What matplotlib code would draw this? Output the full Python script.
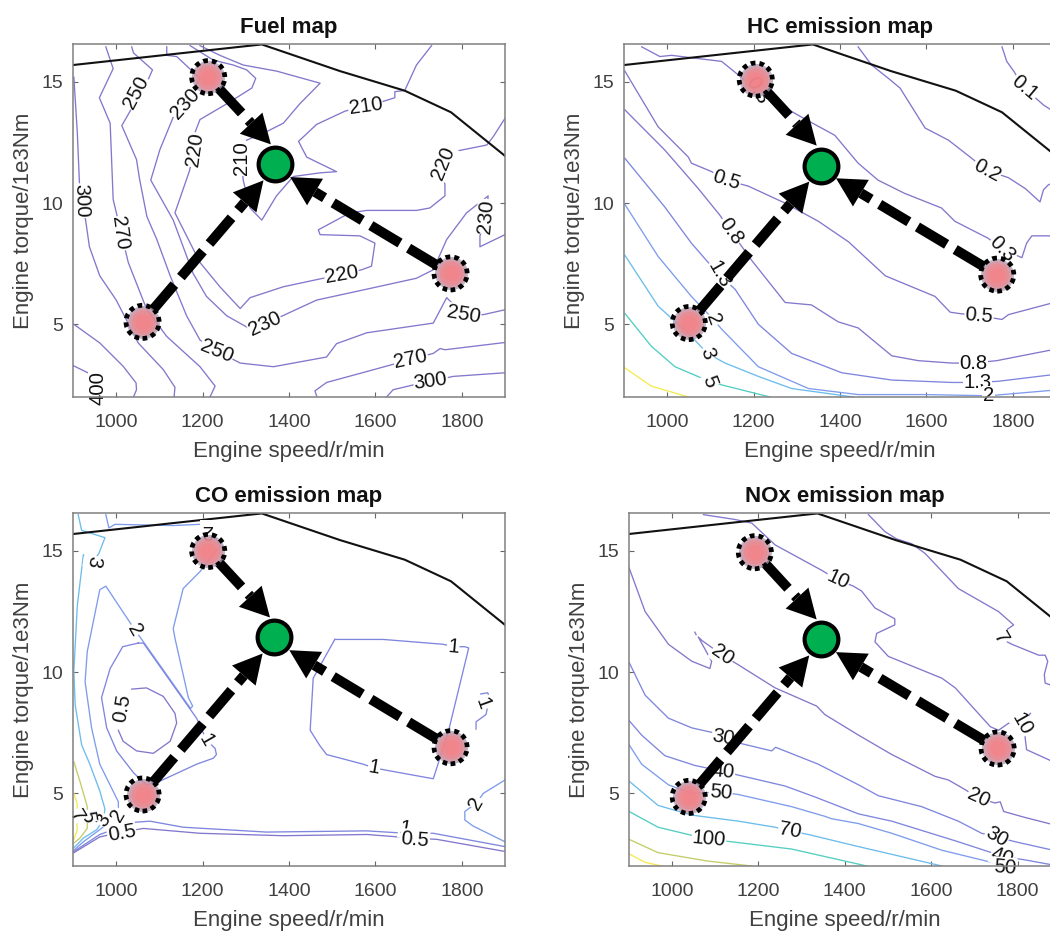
import matplotlib
matplotlib.use("Agg")
import matplotlib.pyplot as plt
import numpy as np
from matplotlib.patches import Polygon

plt.rcParams['font.family'] = ['Liberation Sans', 'DejaVu Sans']

W, H = 1050, 931
PURPLE = '#8278cc'
INDIGO = '#7f86de'
BLUE = '#7f9cec'
SKY = '#6cbcec'
TEAL = '#52cec2'
OLIVE = '#c4cc68'
YELLOW = '#f6ea50'

x_ticks = [1000, 1200, 1400, 1600, 1800]
y_ticks = [5, 10, 15]
limit_curve = [(900, 15.7), (1337, 16.55), (1518, 15.45), (1668, 14.64), (1775, 13.75), (1900, 11.95)]
# where the three arrow tips touch the ring of the optimum marker, in pixels (right, down)
tip_offsets = [(-4.3, -20), (-11.7, 16), (15, 12.7)]

# ---------- Fuel map ----------
fuel_contours = [
    (PURPLE, [(900, 3.3), (940, 2.95), (965, 2.4), (968, 2.0)]),
    (PURPLE, [(902, 5), (962, 4.23), (1016, 3.27), (1046, 2.58), (1047, 2.3), (1040, 2.0)]),
    (PURPLE, [(902, 15.2), (910, 12.9), (915, 10.8), (930, 9.2), (938, 8.2), (962, 7.0), (1000, 6.0), (1051, 4.23), (1109, 3.13), (1136, 2.4), (1134, 2.0)]),
    (PURPLE, [(976, 16.45), (993, 15.55), (961, 14.35), (986, 13.3), (993, 10.15), (1028, 7.55), (1071, 5.6), (1117, 4.5), (1194, 3.25), (1229, 2.45), (1217, 2.0)]),
    (PURPLE, [(1036, 16.45), (1040, 16.2), (1084, 15.5), (1074, 15.1), (1013, 13.2), (1047, 11.8), (1054, 11.0), (1071, 9.45), (1094, 8.5), (1125, 7.0), (1163, 5.35), (1194, 4.35), (1233, 3.9), (1287, 3.4), (1364, 3.25), (1487, 3.65), (1510, 4.2), (1580, 4.65), (1734, 5.05), (1765, 6.1), (1804, 5.4), (1850, 5.4), (1900, 5.6)]),
    (PURPLE, [(1464, 2.05), (1460, 2.25), (1487, 2.6), (1580, 3.05), (1682, 3.55), (1734, 3.8), (1750, 4.0), (1761, 3.95), (1900, 4.25)]),
    (PURPLE, [(1626, 2.0), (1641, 2.3), (1688, 2.5), (1728, 2.65), (1780, 2.85), (1900, 3.0)]),
    (PURPLE, [(1117, 16.45), (1117, 16.1), (1140, 16.05), (1194, 15.15), (1159, 14.1), (1132, 13.55), (1101, 12.2), (1080, 10.95), (1132, 9.3), (1178, 7.1), (1209, 6.15), (1256, 5.35), (1306, 4.85), (1344, 5.0), (1391, 5.4), (1464, 6.0), (1580, 6.45), (1695, 6.9), (1734, 7.25), (1765, 8.5), (1811, 9.6), (1861, 10.3), (1857, 9.45), (1842, 8.65), (1842, 8.2), (1900, 8.7)]),
    (PURPLE, [(1171, 16.5), (1225, 15.9), (1271, 15.7), (1302, 15.5), (1323, 15.15), (1314, 14.75), (1256, 14.1), (1194, 13.45), (1182, 12.9), (1182, 12.2), (1169, 11.3), (1136, 9.6), (1194, 7.55), (1240, 6.55), (1287, 5.65), (1310, 6.1), (1387, 6.55), (1479, 6.9), (1522, 7.05), (1568, 7.25), (1591, 7.4), (1599, 8.35), (1564, 8.65), (1472, 8.7), (1468, 8.9), (1541, 9.6), (1580, 9.7), (1695, 9.7), (1726, 9.8), (1761, 10.3), (1761, 10.7), (1757, 11.65), (1788, 12.15), (1858, 12.4), (1873, 12.75), (1900, 13.5)]),
    (PURPLE, [(1194, 16.5), (1240, 16.1), (1294, 15.7), (1371, 15.45), (1472, 14.95), (1425, 14.1), (1387, 13.3), (1348, 12.95), (1302, 12.6), (1290, 11.85), (1294, 10.95), (1310, 9.8), (1337, 9.3), (1371, 10.3), (1410, 11.1), (1472, 11.25), (1510, 11.3), (1441, 11.9), (1422, 12.55), (1464, 13.25), (1530, 13.8), (1577, 14.0), (1618, 14.2), (1645, 14.35), (1645, 14.6), (1668, 14.65), (1695, 15.7), (1730, 16.5)]),
]
fuel_labels = [
    ('400', 958, 2.35, 90), ('300', 920, 10.1, -88), ('270', 1009, 8.75, -82), ('250', 1047, 14.55, 62),
    ('230', 1159, 14.1, 48), ('220', 1182, 12.2, 82), ('210', 1290, 11.85, 90), ('210', 1577, 14.0, 8),
    ('220', 1757, 11.65, 68), ('230', 1857, 9.45, 85), ('220', 1522, 7.05, 10), ('230', 1344, 5.0, 25),
    ('250', 1233, 3.9, -22), ('250', 1804, 5.4, -10), ('270', 1682, 3.55, 12), ('300', 1728, 2.65, 8),
]
fuel_points = [(1213, 15.2), (1061, 5.1), (1774, 7.1)]
fuel_optimum = (1368, 11.6)

# ---------- HC map ----------
hc_contours = [
    (PURPLE, [(1775, 16.45), (1786, 15.85), (1802, 15.45), (1827, 14.75), (1871, 14.05), (1906, 13.65)]),
    (PURPLE, [(1442, 16.45), (1473, 15.7), (1512, 15.15), (1539, 14.75), (1597, 13.1), (1651, 12.6), (1705, 11.85), (1740, 11.35), (1790, 11.05), (1829, 10.6), (1863, 10.05), (1871, 10.55), (1882, 10.75), (1906, 10.95)]),
    (PURPLE, [(941, 16.45), (983, 16.05), (1010, 16.1), (1056, 16.0), (1126, 15.85), (1164, 15.3), (1207, 14.65), (1242, 14.25), (1311, 13.55), (1388, 12.8), (1442, 11.65), (1488, 10.95), (1550, 10.4), (1635, 9.8), (1666, 9.25), (1743, 8.55), (1776, 8.1), (1821, 7.75), (1832, 8.35), (1844, 8.65), (1906, 8.65)]),
    (PURPLE, [(902, 15.45), (979, 13.15), (1049, 11.9), (1056, 11.65), (1103, 11.3), (1137, 10.95), (1188, 10.7), (1273, 10.0), (1350, 9.25), (1420, 8.4), (1505, 7.0), (1620, 6.15), (1655, 5.5), (1674, 5.45), (1722, 5.35), (1775, 5.2), (1790, 5.4), (1906, 5.95)]),
    (PURPLE, [(902, 13.85), (994, 12.2), (1072, 10.6), (1122, 9.5), (1147, 8.85), (1195, 7.65), (1273, 5.9), (1334, 5.8), (1396, 5.1), (1442, 4.85), (1520, 3.7), (1581, 3.5), (1659, 3.4), (1709, 3.4), (1763, 3.5), (1906, 4.0)]),
    (INDIGO, [(902, 11.85), (994, 9.85), (1056, 8.35), (1095, 7.55), (1120, 7.05), (1157, 6.45), (1211, 5.0), (1288, 3.8), (1404, 3.0), (1520, 2.7), (1659, 2.6), (1718, 2.6), (1767, 2.65), (1906, 2.95)]),
    (BLUE, [(902, 9.95), (979, 7.8), (1056, 6.15), (1107, 5.2), (1126, 4.8), (1211, 3.25), (1327, 2.35), (1442, 2.1), (1597, 2.1), (1744, 2.05), (1906, 2.3)]),
    (SKY, [(902, 7.85), (979, 5.75), (1056, 4.5), (1093, 3.8), (1134, 3.4), (1211, 2.85), (1288, 2.35), (1431, 2.0)]),
    (TEAL, [(902, 5.45), (963, 4.1), (1018, 3.25), (1097, 2.65), (1126, 2.5), (1238, 2.0)]),
    (YELLOW, [(902, 3.2), (963, 2.45), (1049, 2.0)]),
]
hc_labels = [
    ('0.1', 1827, 14.75, -40), ('0.2', 1740, 11.35, -28), ('0.3', 1207, 14.65, -60), ('0.3', 1776, 8.1, -45),
    ('0.5', 1137, 10.95, -18), ('0.5', 1722, 5.35, -5), ('0.8', 1147, 8.85, -55), ('0.8', 1709, 3.4, 0),
    ('1.3', 1120, 7.05, -60), ('1.3', 1718, 2.6, 0), ('2', 1107, 5.2, -70), ('2', 1744, 2.05, 0),
    ('3', 1093, 3.8, -70), ('5', 1097, 2.65, -70),
]
hc_points = [(1205, 15.1), (1050, 5.05), (1764, 7.05)]
hc_optimum = (1356, 11.55)

# ---------- CO map ----------
co_contours = [
    (OLIVE, [(902, 6.3), (916, 5.5), (933, 4.45), (933, 3.55), (916, 3.15), (902, 2.95)]),
    (YELLOW, [(902, 5.0), (910, 4.55), (908, 4.05), (910, 3.5), (902, 3.1)]),
    (SKY, [(912, 16.5), (920, 15.85), (974, 15.55), (960, 14.9), (947, 14.55), (924, 14.85), (910, 12.75), (902, 10.05), (905, 8.65), (920, 7.0), (939, 6.2), (962, 5.1), (974, 4.35), (970, 3.9), (955, 3.5), (924, 3.15), (902, 2.75)]),
    (BLUE, [(976, 16.5), (983, 15.95), (997, 16.1), (1132, 16.05), (1194, 16.1), (1225, 15.7), (1240, 15.2), (1194, 14.15), (1155, 13.45), (1132, 11.8), (1136, 11.4), (1167, 8.95), (1177, 8.6), (1172, 8.5), (1063, 11.25), (1043, 11.75), (976, 13.55), (962, 13.4), (933, 10.85), (928, 9.6), (943, 7.7), (962, 6.2), (1005, 4.65), (1005, 4.1), (962, 3.5), (924, 3.0), (902, 2.65)]),
    (BLUE, [(1900, 5.55), (1850, 5.0), (1834, 4.6), (1807, 4.25), (1807, 3.9), (1826, 3.65), (1900, 3.0)]),
    (INDIGO, [(1051, 11.2), (1015, 11.05), (986, 10.15), (966, 8.95), (978, 7.7), (1001, 6.75), (1040, 5.85), (1070, 5.35), (1101, 5.5), (1186, 6.2), (1225, 6.45), (1232, 6.6), (1229, 6.85), (1209, 7.2), (1186, 8.1), (1063, 11.2), (1051, 11.2)]),
    (INDIGO, [(1506, 11.35), (1618, 11.35), (1757, 11.15), (1780, 11.05), (1807, 11.05), (1816, 11.0), (1769, 7.55), (1734, 5.6), (1626, 5.95), (1597, 6.05), (1572, 6.2), (1487, 6.6), (1472, 6.95), (1449, 7.6), (1456, 9.75), (1506, 11.35)]),
    (INDIGO, [(1833, 7.65), (1833, 7.95), (1856, 8.25), (1864, 8.95), (1860, 9.15), (1844, 9.1)]),
    (INDIGO, [(902, 2.6), (962, 3.3), (1040, 3.8), (1078, 3.85), (1155, 3.6), (1348, 3.4), (1580, 3.45), (1671, 3.35), (1734, 3.35), (1900, 2.8)]),
    (PURPLE, [(1005, 7.6), (1016, 7.15), (1047, 6.75), (1086, 6.65), (1125, 7.15), (1140, 7.9), (1136, 8.3), (1109, 9.0), (1070, 9.35), (1036, 9.3)]),
    (PURPLE, [(902, 2.55), (962, 3.2), (1013, 3.4), (1063, 3.55), (1194, 3.35), (1387, 3.25), (1580, 3.3), (1689, 3.15), (1742, 3.1), (1900, 2.6)]),
]
co_labels = [
    ('3', 947, 14.55, -100), ('2', 1209, 15.85, 180), ('2', 1043, 11.75, -60), ('0.5', 1015, 8.5, 80),
    ('1', 1209, 7.2, -60), ('1', 1780, 11.05, -5), ('1', 1597, 6.05, -10), ('1', 1848, 8.7, -70),
    ('2', 1834, 4.6, 60), ('2', 1005, 4.1, 60), ('3', 970, 3.9, 60), ('5', 933, 4.05, -80), ('7', 908, 4.05, -60),
    ('0.5', 1013, 3.35, 10), ('1', 1668, 3.55, -10), ('0.5', 1692, 3.1, -5),
]
co_points = [(1213, 15.0), (1061, 4.95), (1774, 6.9)]
co_optimum = (1366, 11.43)

# ---------- NOx map ----------
nox_contours = [
    (PURPLE, [(1455, 16.5), (1493, 15.8), (1520, 15.5), (1555, 15.3), (1586, 14.9), (1663, 13.45), (1756, 12.5), (1791, 11.95), (1771, 11.7), (1760, 11.4), (1787, 11.15), (1849, 10.7), (1864, 10.7), (1870, 10.45), (1862, 9.9), (1864, 9.55), (1895, 9.35)]),
    (PURPLE, [(1073, 16.5), (1146, 16.3), (1185, 16.15), (1239, 15.25), (1347, 14.2), (1384, 13.8), (1420, 13.55), (1439, 13.35), (1470, 12.65), (1516, 12.2), (1516, 11.95), (1474, 11.6), (1470, 11.25), (1501, 10.65), (1625, 9.75), (1656, 9.35), (1737, 7.75), (1756, 7.6), (1780, 7.9), (1810, 7.85), (1830, 8.3)]),
    (PURPLE, [(1817, 7.4), (1821, 6.8), (1895, 6.2)]),
    (PURPLE, [(901, 14.3), (938, 12.5), (992, 11.15), (1046, 10.45), (1088, 10.15), (1092, 10.45), (1061, 11.45), (1070, 11.3), (1117, 10.7), (1154, 10.3), (1239, 9.35), (1335, 8.6), (1354, 8.25), (1432, 7.4), (1509, 6.6), (1609, 5.7), (1640, 5.55), (1679, 5.15), (1710, 4.8), (1748, 4.6), (1760, 4.65), (1768, 4.25), (1818, 4.0), (1895, 3.65)]),
    (PURPLE, [(1053, 11.65), (1056, 11.55)]),
    (INDIGO, [(901, 10.4), (938, 9.05), (992, 8.1), (1046, 7.7), (1096, 7.5), (1119, 7.3), (1161, 7.05), (1231, 6.75), (1240, 6.9), (1339, 6.2), (1432, 5.35), (1478, 4.9), (1578, 4.45), (1663, 3.85), (1717, 3.35), (1752, 3.2), (1795, 3.0), (1895, 2.6)]),
    (INDIGO, [(901, 8.0), (930, 7.4), (984, 6.55), (1053, 6.15), (1119, 5.9), (1154, 5.75), (1262, 5.3), (1331, 4.85), (1432, 4.15), (1509, 3.85), (1663, 3.0), (1740, 2.55), (1765, 2.4), (1818, 2.25), (1895, 2.0)]),
    (BLUE, [(901, 7.0), (930, 6.2), (992, 5.35), (1046, 5.0), (1113, 5.05), (1154, 4.95), (1277, 4.45), (1354, 4.05), (1370, 3.95), (1432, 3.75), (1509, 3.35), (1625, 2.65), (1740, 2.15), (1795, 2.0)]),
    (SKY, [(901, 5.5), (968, 4.5), (1046, 4.1), (1154, 3.85), (1239, 3.6), (1273, 3.45), (1316, 3.3), (1432, 2.8), (1625, 2.0)]),
    (TEAL, [(901, 4.25), (968, 3.6), (1038, 3.3), (1086, 3.1), (1138, 3.0), (1277, 2.7), (1451, 2.0)]),
    (OLIVE, [(901, 3.1), (968, 2.55), (1084, 2.2), (1185, 2.0)]),
    (YELLOW, [(901, 2.5), (938, 2.15), (977, 2.0)]),
]
nox_labels = [
    ('7', 1760, 11.4, -60), ('10', 1384, 13.8, -25), ('10', 1810, 7.85, -60), ('20', 1117, 10.7, -35),
    ('20', 1710, 4.8, -25), ('30', 1119, 7.3, -10), ('30', 1752, 3.2, -30), ('40', 1119, 5.9, -5),
    ('40', 1765, 2.4, -20), ('50', 1113, 5.05, -5), ('50', 1771, 1.95, -5), ('70', 1273, 3.45, -10),
    ('100', 1086, 3.1, -5),
]
nox_points = [(1192, 14.95), (1039, 4.85), (1754, 6.85)]
nox_optimum = (1345, 11.35)


def add_head_and_shaft(ax, start, center, offset):
    to_px = ax.transData.transform
    to_data = ax.transData.inverted().transform
    p0 = to_px(start)
    tip = to_px(center) + np.array([offset[0], -offset[1]])
    u = (tip - p0) / np.hypot(*(tip - p0))
    n = np.array([-u[1], u[0]])
    base = tip - u * 29
    a, b = to_data(p0 + u * 15), to_data(base)
    ax.plot([a[0], b[0]], [a[1], b[1]], color='k', lw=7.2, dashes=(3.4, 1.0),
            dash_capstyle='butt', zorder=4)
    tri = to_data(np.array([tip, base + n * 15.5, base - n * 15.5]))
    ax.add_patch(Polygon(tri, closed=True, fc='k', ec='none', zorder=4.2))


def panel(left, top, title, contours, labels, points, optimum):
    ax = fig.add_axes([left / W, 1 - (top + 353.3) / H, 432 / W, 353.3 / H])
    ax.set_xlim(900, 1900)
    ax.set_ylim(2.0, 16.58)
    for color, pts in contours:
        xs, ys = zip(*pts)
        ax.plot(xs, ys, color=color, lw=0.95, zorder=2, solid_joinstyle='round')
    ax.plot(*zip(*limit_curve), color='#111111', lw=1.5, zorder=2.4)
    for text, x, y, rot in labels:
        ax.text(x, y, text, fontsize=14.6, color='#111111', rotation=rot, ha='center', va='center',
                rotation_mode='anchor', zorder=3,
                bbox=dict(fc='white', ec='none', pad=0.5))
    for p, off in zip(points, tip_offsets):
        add_head_and_shaft(ax, p, optimum, off)
    px, py = zip(*points)
    ax.scatter(px, py, s=570, color='#a89cb8', alpha=0.75, linewidths=0, zorder=5)
    ax.scatter(px, py, s=440, color='#e88a90', alpha=0.55, linewidths=0, zorder=5.1)
    ax.scatter(px, py, s=290, color='#fa7f82', alpha=0.5, linewidths=0, zorder=5.2)
    ax.scatter(px, py, s=130, color='#ff7a80', alpha=0.4, linewidths=0, zorder=5.25)
    ax.scatter(px, py, s=570, facecolors='none', edgecolors='k', linewidths=3.4,
               linestyles=[(0, (1, 0.85))], zorder=5.3)
    ax.scatter(*optimum, s=590, color='#00b050', edgecolors='k', linewidths=3.0, zorder=6)
    ax.set_xticks(x_ticks)
    ax.set_yticks(y_ticks)
    ax.tick_params(direction='in', length=3.5, width=0.8, top=True, right=True, color='#666666',
                   labelcolor='#404040', labelsize=14)
    ax.tick_params(axis='x', pad=12.5)
    ax.tick_params(axis='y', pad=7)
    for s in ax.spines.values():
        s.set_color('#808080')
        s.set_linewidth(1.1)
        s.set_zorder(7)
    ax.set_xlabel('Engine speed/r/min', fontsize=16, color='#404040', va='center')
    ax.xaxis.set_label_coords(0.5, -0.155)
    ax.set_ylabel('Engine torque/1e3Nm', fontsize=16, color='#404040', va='center')
    ax.yaxis.set_label_coords(-0.114, 0.5)
    ax.set_title(title, fontsize=16, fontweight='bold', color='#111111', y=1.045, pad=0, va='center')
    return ax


fig = plt.figure(figsize=(W / 100, H / 100), dpi=100)
panel(73, 43.7, 'Fuel map', fuel_contours, fuel_labels, fuel_points, fuel_optimum)
panel(624, 43.7, 'HC emission map', hc_contours, hc_labels, hc_points, hc_optimum)
panel(73, 512.7, 'CO emission map', co_contours, co_labels, co_points, co_optimum)
panel(628.7, 512.7, 'NOx emission map', nox_contours, nox_labels, nox_points, nox_optimum)
fig.savefig('out.png', dpi=100)
